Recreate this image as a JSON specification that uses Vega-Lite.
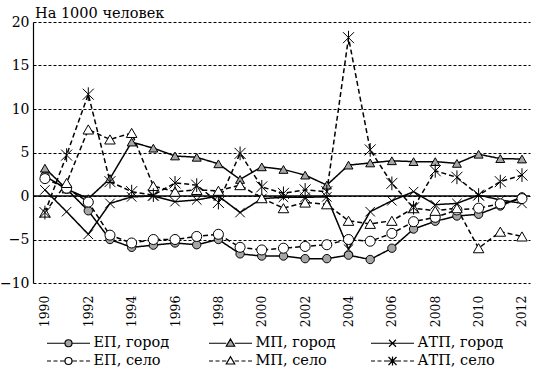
{
  "$schema": "https://vega.github.io/schema/vega-lite/v6.json",
  "width": 497,
  "height": 261,
  "autosize": {"type": "none"},
  "padding": {"left": 33, "top": 22, "right": 4, "bottom": 91},
  "background": "white",
  "config": {
    "view": {"stroke": null}
  },
  "title": {
    "text": "На 1000 человек",
    "anchor": "start",
    "frame": "group",
    "font": "DejaVu Serif",
    "fontSize": 14.5,
    "fontWeight": "normal",
    "color": "black",
    "offset": -6,
    "dx": 2
  },
  "data": {
    "values": [
      {"year": 1990, "ЕП, город": 2.3, "ЕП, село": 2.0, "МП, город": 3.2, "МП, село": -1.9, "АТП, город": 0.7, "АТП, село": -1.9},
      {"year": 1991, "ЕП, город": 0.8, "ЕП, село": 0.9, "МП, город": 0.8, "МП, село": 1.5, "АТП, город": -1.8, "АТП, село": 4.7},
      {"year": 1992, "ЕП, город": -1.7, "ЕП, село": -0.7, "МП, город": -0.3, "МП, село": 7.65, "АТП, город": -4.4, "АТП, село": 11.7},
      {"year": 1993, "ЕП, город": -5.0, "ЕП, село": -4.5, "МП, город": 2.0, "МП, село": 6.5, "АТП, город": -0.85, "АТП, село": 1.65},
      {"year": 1994, "ЕП, город": -5.9, "ЕП, село": -5.4, "МП, город": 6.2, "МП, село": 7.25, "АТП, город": -0.1, "АТП, село": 0.5},
      {"year": 1995, "ЕП, город": -5.65, "ЕП, село": -5.0, "МП, город": 5.5, "МП, село": 1.15, "АТП, город": 0.0, "АТП, село": 0.1},
      {"year": 1996, "ЕП, город": -5.4, "ЕП, село": -5.0, "МП, город": 4.6, "МП, село": 0.5, "АТП, город": -0.65, "АТП, село": 1.5},
      {"year": 1997, "ЕП, город": -5.6, "ЕП, село": -4.65, "МП, город": 4.45, "МП, село": 0.7, "АТП, город": -0.45, "АТП, село": 1.25},
      {"year": 1998, "ЕП, город": -5.0, "ЕП, село": -4.4, "МП, город": 3.7, "МП, село": 0.6, "АТП, город": 0.0, "АТП, село": -0.75},
      {"year": 1999, "ЕП, город": -6.65, "ЕП, село": -5.9, "МП, город": 1.9, "МП, село": 1.25, "АТП, город": -1.9, "АТП, село": 4.9},
      {"year": 2000, "ЕП, город": -6.9, "ЕП, село": -6.2, "МП, город": 3.35, "МП, село": -0.25, "АТП, город": -0.3, "АТП, село": 1.05},
      {"year": 2001, "ЕП, город": -6.9, "ЕП, село": -6.0, "МП, город": 3.05, "МП, село": -1.4, "АТП, город": -0.15, "АТП, село": 0.3},
      {"year": 2002, "ЕП, город": -7.2, "ЕП, село": -5.8, "МП, город": 2.4, "МП, село": -0.75, "АТП, город": -0.15, "АТП, село": 0.7},
      {"year": 2003, "ЕП, город": -7.2, "ЕП, село": -5.6, "МП, город": 1.25, "МП, село": -0.95, "АТП, город": -0.1, "АТП, село": 0.5},
      {"year": 2004, "ЕП, город": -6.8, "ЕП, село": -5.0, "МП, город": 3.55, "МП, село": -2.85, "АТП, город": -6.1, "АТП, село": 18.2},
      {"year": 2005, "ЕП, город": -7.3, "ЕП, село": -5.2, "МП, город": 3.8, "МП, село": -3.2, "АТП, город": -1.8, "АТП, село": 5.3},
      {"year": 2006, "ЕП, город": -6.0, "ЕП, село": -4.3, "МП, город": 4.05, "МП, село": -2.85, "АТП, город": -0.55, "АТП, село": 1.45},
      {"year": 2007, "ЕП, город": -3.8, "ЕП, село": -2.95, "МП, город": 3.95, "МП, село": -1.4, "АТП, город": 0.5, "АТП, село": -1.35},
      {"year": 2008, "ЕП, город": -2.9, "ЕП, село": -2.45, "МП, город": 3.95, "МП, село": -1.7, "АТП, город": -1.0, "АТП, село": 2.9},
      {"year": 2009, "ЕП, город": -2.3, "ЕП, село": -1.6, "МП, город": 3.75, "МП, село": -1.4, "АТП, город": -0.85, "АТП, село": 2.15},
      {"year": 2010, "ЕП, город": -2.1, "ЕП, село": -1.4, "МП, город": 4.8, "МП, село": -6.0, "АТП, город": 0.1, "АТП, село": 0.1},
      {"year": 2011, "ЕП, город": -1.15, "ЕП, село": -0.9, "МП, город": 4.3, "МП, село": -4.1, "АТП, город": -0.45, "АТП, село": 1.65},
      {"year": 2012, "ЕП, город": -0.1, "ЕП, село": -0.3, "МП, город": 4.25, "МП, село": -4.65, "АТП, город": -0.85, "АТП, село": 2.4}
    ]
  },
  "resolve": {"scale": {"shape": "independent", "fill": "independent", "stroke": "independent"}},
  "layer": [
    {
      "transform": [{"fold": ["ЕП, город", "МП, город", "АТП, город", "ЕП, село", "МП, село", "АТП, село"], "as": ["series", "value"]}],
      "mark": {"type": "line", "color": "black", "strokeWidth": 1.5},
      "encoding": {
        "x": {
          "field": "year", "type": "quantitative",
          "scale": {"domain": [1989.45, 2012.37], "nice": false, "zero": false},
          "axis": {"values": [1990, 1992, 1994, 1996, 1998, 2000, 2002, 2004, 2006, 2008, 2010, 2012], "format": "d", "title": null, "domain": false, "ticks": false, "grid": false, "labelAngle": -90, "labelFontSize": 12.5, "labelPadding": 12, "labelFont": "DejaVu Serif", "labelColor": "black"}
        },
        "y": {
          "field": "value", "type": "quantitative",
          "scale": {"domain": [-10, 20], "nice": false, "zero": false},
          "axis": {"values": [-10, -5, 0, 5, 10, 15, 20], "title": null, "domain": true, "domainColor": "black", "domainWidth": 1.2, "ticks": false, "labelPadding": 4, "labelFontSize": 14, "labelFont": "DejaVu Serif", "labelColor": "black", "grid": true, "gridColor": "black", "gridDash": [3, 2], "gridWidth": 1, "gridOpacity": 1}
        },
        "detail": {"field": "series", "type": "nominal"},
        "strokeDash": {
          "field": "series", "type": "nominal",
          "scale": {"domain": ["ЕП, город", "МП, город", "АТП, город", "ЕП, село", "МП, село", "АТП, село"], "range": [[1, 0], [1, 0], [1, 0], [5, 3], [5, 3], [5, 3]]},
          "legend": null
        }
      }
    },
    {
      "data": {"values": [{"zero": 0}]},
      "mark": {"type": "rule", "color": "black", "strokeWidth": 1.3},
      "encoding": {"y": {"field": "zero", "type": "quantitative"}}
    },
    {
      "transform": [{"fold": ["ЕП, город", "МП, город", "АТП, город", "ЕП, село", "МП, село", "АТП, село"], "as": ["series", "value"]}],
      "mark": {"type": "point", "filled": true, "stroke": "black", "strokeWidth": 1, "opacity": 1},
      "encoding": {
        "x": {"field": "year", "type": "quantitative"},
        "y": {"field": "value", "type": "quantitative"},
        "shape": {
          "field": "series", "type": "nominal",
          "scale": {"domain": ["ЕП, город", "МП, город", "АТП, город", "ЕП, село", "МП, село", "АТП, село"], "range": ["circle", "triangle-up", "M-1,-1L1,1M1,-1L-1,1", "circle", "triangle-up", "M-1,-1L1,1M1,-1L-1,1M0,-1.25L0,1.25"]},
          "legend": null
        },
        "fill": {
          "field": "series", "type": "nominal",
          "scale": {"domain": ["ЕП, город", "МП, город", "АТП, город", "ЕП, село", "МП, село", "АТП, село"], "range": ["#a6a6a6", "#a6a6a6", "transparent", "#ffffff", "#ffffff", "transparent"]},
          "legend": null
        },
        "size": {
          "field": "series", "type": "nominal",
          "scale": {"domain": ["ЕП, город", "МП, город", "АТП, город", "ЕП, село", "МП, село", "АТП, село"], "range": [70, 121, 100, 70, 121, 100]},
          "legend": null
        }
      }
    },
    {
      "data": {"values": []},
      "mark": {"type": "point", "filled": false, "color": "black", "strokeWidth": 1.2, "opacity": 1},
      "encoding": {
        "shape": {
          "field": "series", "type": "nominal",
          "scale": {
            "domain": ["ЕП, город", "МП, город", "АТП, город", "ЕП, село", "МП, село", "АТП, село"],
            "range": [
              "M-2.15,0L-0.35,0M0.35,0L2.15,0M-0.35,0A0.35,0.35,0,1,0,0.35,0A0.35,0.35,0,1,0,-0.35,0Z",
              "M-2.15,0L-0.42,0M0.42,0L2.15,0M0,-0.42L0.42,0.3L-0.42,0.3Z",
              "M-2.15,0L2.15,0M-0.35,-0.35L0.35,0.35M0.35,-0.35L-0.35,0.35",
              "M-2.15,0L-1.75,0M-1.5,0L-1.1,0M-0.85,0L-0.35,0M0.35,0L0.85,0M1.1,0L1.5,0M1.75,0L2.15,0M-0.35,0A0.35,0.35,0,1,0,0.35,0A0.35,0.35,0,1,0,-0.35,0Z",
              "M-2.15,0L-1.75,0M-1.5,0L-1.1,0M-0.85,0L-0.42,0M0.42,0L0.85,0M1.1,0L1.5,0M1.75,0L2.15,0M0,-0.42L0.42,0.3L-0.42,0.3Z",
              "M-2.15,0L-1.75,0M-1.5,0L-1.1,0M-0.85,0L-0.45,0M0.45,0L0.85,0M1.1,0L1.5,0M1.75,0L2.15,0M-0.4,-0.4L0.4,0.4M0.4,-0.4L-0.4,0.4M0,-0.45L0,0.45M-0.45,0L0.45,0"
            ]
          },
          "legend": {
            "orient": "none", "legendX": 14, "legendY": 310, "title": null, "columns": 3, "direction": "horizontal",
            "symbolSize": 400, "symbolOffset": 10.5, "labelOffset": 14, "symbolStrokeWidth": 1.2,
            "labelFont": "DejaVu Serif", "labelFontSize": 14.5, "labelColor": "black", "labelLimit": 300,
            "columnPadding": 26, "rowPadding": -2, "gridAlign": "all", "padding": 0, "symbolOpacity": 1
          }
        },
        "stroke": {
          "field": "series", "type": "nominal",
          "scale": {"domain": ["ЕП, город", "МП, город", "АТП, город", "ЕП, село", "МП, село", "АТП, село"], "range": ["black", "black", "black", "black", "black", "black"]},
          "legend": {
            "orient": "none", "legendX": 14, "legendY": 310, "title": null, "columns": 3, "direction": "horizontal",
            "symbolSize": 400, "symbolOffset": 10.5, "labelOffset": 14, "symbolStrokeWidth": 1.2,
            "labelFont": "DejaVu Serif", "labelFontSize": 14.5, "labelColor": "black", "labelLimit": 300,
            "columnPadding": 26, "rowPadding": -2, "gridAlign": "all", "padding": 0, "symbolOpacity": 1
          }
        },
        "fill": {
          "field": "series", "type": "nominal",
          "scale": {"domain": ["ЕП, город", "МП, город", "АТП, город", "ЕП, село", "МП, село", "АТП, село"], "range": ["#a6a6a6", "#a6a6a6", "transparent", "#ffffff", "#ffffff", "transparent"]},
          "legend": {
            "orient": "none", "legendX": 14, "legendY": 310, "title": null, "columns": 3, "direction": "horizontal",
            "symbolSize": 400, "symbolOffset": 10.5, "labelOffset": 14, "symbolStrokeWidth": 1.2,
            "labelFont": "DejaVu Serif", "labelFontSize": 14.5, "labelColor": "black", "labelLimit": 300,
            "columnPadding": 26, "rowPadding": -2, "gridAlign": "all", "padding": 0, "symbolOpacity": 1
          }
        }
      }
    }
  ]
}
